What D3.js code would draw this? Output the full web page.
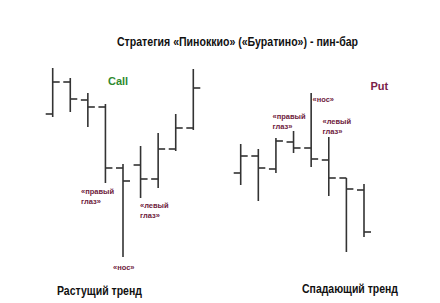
<!DOCTYPE html>
<html>
<head>
<meta charset="utf-8">
<script src="https://cdn.jsdelivr.net/npm/d3@7"></script>
<style>
  body { margin: 0; background: #fff; }
  svg { display: block; }
</style>
</head>
<body>
<svg id="chart" width="440" height="303"></svg>
<script>
// bars of the rising trend (Call): open, high, low, close
const callOpen  = [156, 188, 170, 163, 102, 105,  91, 121, 142];
const callHigh  = [202, 192, 177, 166, 106, 124, 137, 156, 201];
const callLow   = [153, 158, 143,  87,  13,  72,  82, 119, 140];
const callClose = [188, 171, 163, 102,  89,  91, 121, 142, 182];

// bars of the falling trend (Put)
const putOpen  = [ 97, 114, 101, 128, 122, 110,  92,  80];
const putHigh  = [126, 121, 132, 139, 177, 133,  92,  86];
const putLow   = [ 85,  69,  97, 117, 103,  74,  18,  33];
const putClose = [114, 102, 129, 122, 111,  92,  81,  38];

const titleText = "Стратегия «Пиноккио» («Буратино») - пин-бар";
const trendLabels = ["Растущий тренд", "Спадающий тренд"];
const signalLabels = ["Call", "Put"];

const svg = d3.select("svg#chart");
const font = "'Liberation Sans', Arial, sans-serif";
const ink = "#333";
const maroon = "#6e1a3c";
const tick = 7;

// common price scale for both panels
const y = d3.scaleLinear().domain([0, 200]).range([270, 70]);

function makeBars(open, high, low, close) {
    return open.map((o, i) => ({ i: i, open: o, high: high[i], low: low[i], close: close[i] }));
}

function drawPanel(data, x0, x1) {
    const x = d3.scalePoint().domain(data.map(d => d.i)).range([x0, x1]);
    const g = svg.append("g");
    const bar = g.selectAll("g.bar").data(data).enter().append("g").classed("bar", true);

    bar.append("line")
        .attr("x1", d => x(d.i)).attr("x2", d => x(d.i))
        .attr("y1", d => y(d.high)).attr("y2", d => y(d.low));
    bar.append("line")
        .attr("x1", d => x(d.i) - tick).attr("x2", d => x(d.i))
        .attr("y1", d => y(d.open)).attr("y2", d => y(d.open));
    bar.append("line")
        .attr("x1", d => x(d.i)).attr("x2", d => x(d.i) + tick)
        .attr("y1", d => y(d.close)).attr("y2", d => y(d.close));

    bar.selectAll("line").attr("stroke", ink).attr("stroke-width", 1.6);
    return x;
}

const xCall = drawPanel(makeBars(callOpen, callHigh, callLow, callClose), 52.7, 193.3);
const xPut = drawPanel(makeBars(putOpen, putHigh, putLow, putClose), 240.7, 364);

function label(x, yy, lines, size, color) {
    const t = svg.append("text")
        .attr("x", x).attr("y", yy)
        .attr("font-family", font).attr("font-weight", "bold")
        .attr("font-size", size).attr("fill", color);
    lines.forEach((s, k) => {
        t.append("tspan").attr("x", x).attr("dy", k == 0 ? 0 : size * 1.3).text(s);
    });
    return t;
}

// title, squeezed like the original narrow face
svg.append("text")
    .attr("x", 117).attr("y", 45.5)
    .attr("font-family", font).attr("font-weight", "bold")
    .attr("font-size", 12).attr("fill", "#111")
    .attr("textLength", 241).attr("lengthAdjust", "spacingAndGlyphs")
    .text(titleText);

label(108, 85, [signalLabels[0]], 11, "#2f8a2f");
label(370.5, 90, [signalLabels[1]], 11, "#7a2048");

// left panel annotations
label(81, 194, ["«правый", "глаз»"], 7.5, maroon);
label(140, 208, ["«левый", "глаз»"], 7.5, maroon);
label(113, 270, ["«нос»"], 7.5, maroon);

// right panel annotations
label(272.5, 119, ["«правый", "глаз»"], 7.5, maroon);
label(322.5, 124, ["«левый", "глаз»"], 7.5, maroon);
label(312.5, 102, ["«нос»"], 7.5, maroon);

// trend captions
label(57, 295, [trendLabels[0]], 12.5, "#111")
    .attr("textLength", 85).attr("lengthAdjust", "spacingAndGlyphs");
label(302, 292.5, [trendLabels[1]], 12.5, "#111")
    .attr("textLength", 96).attr("lengthAdjust", "spacingAndGlyphs");
</script>
</body>
</html>
